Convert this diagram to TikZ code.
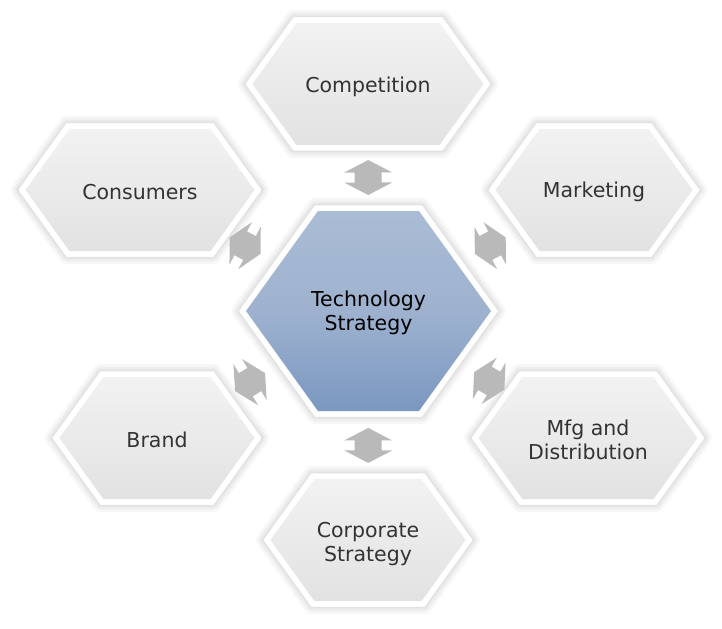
\documentclass[tikz,border=0pt]{standalone}
\usepackage{fontspec}
\setmainfont{DejaVu Sans}
\usetikzlibrary{calc,backgrounds}
\definecolor{arrowgray}{RGB}{185,185,185}
\definecolor{hexlight}{RGB}{242,242,242}
\definecolor{hexdark}{RGB}{226,226,226}
\definecolor{techtop}{RGB}{170,188,213}
\definecolor{techmid}{RGB}{158,178,207}
\definecolor{techbot}{RGB}{122,151,192}
\definecolor{txtgray}{RGB}{51,51,51}
\newcommand\hexpath[4]{($(#1)+(-#2,0)$) -- ($(#1)+(-#2+#4,-#3)$) -- ($(#1)+(#2-#4,-#3)$) -- ($(#1)+(#2,0)$) -- ($(#1)+(#2-#4,#3)$) -- ($(#1)+(-#2+#4,#3)$) -- cycle}
% #1 centre coordinate, #2 half width, #3 half height, #4 inner fill style
\newcommand\drawhex[4]{%
  \pgfmathsetmacro\hxs{0.72*#3}%
  \pgfmathsetmacro\hxw{#2-7.5}%
  \pgfmathsetmacro\hxh{#3-6}%
  \pgfmathsetmacro\hxi{0.72*(#3-6)}%
  \foreach \lw in {14,9,5,2}{%
    \path[hexshadow, line width=\lw bp] \hexpath{#1}{#2}{#3}{\hxs};}
  \path[fill=white, draw=black!10, line width=0.5bp, line join=round] \hexpath{#1}{#2}{#3}{\hxs};
  \path[#4] \hexpath{#1}{\hxw}{\hxh}{\hxi};
}
\tikzset{
  hexshadow/.style={fill=black, draw=black, opacity=0.03, line join=round, shift={(0,3)}},
  greyfill/.style={top color=hexlight, bottom color=hexdark},
  bluefill/.style={top color=techtop, bottom color=techbot, middle color=techmid},
  lbl/.style={align=center, inner sep=0pt, text=txtgray, font=\fontsize{20.5bp}{24.5bp}\selectfont},
  pics/darrow/.style={code={%
    \fill[arrowgray] (-17.5,0) -- (-5,24) -- (-5,13.5) -- (5,13.5) -- (5,24) -- (17.5,0)
      -- (5,-24) -- (5,-13.5) -- (-5,-13.5) -- (-5,-24) -- cycle;}},
}
\begin{document}
\begin{tikzpicture}[x=1bp, y=-1bp]
\useasboundingbox (0,0) rectangle (722,629);
% centres of the hexagons
\coordinate (techc) at (368.5,311);
\coordinate (compc) at (368,84);
\coordinate (consc) at (140,190);
\coordinate (mktc) at (594,190);
\coordinate (brandc) at (157,438);
\coordinate (mfgc) at (588,438);
\coordinate (corpc) at (368,540);
% hexagons
\drawhex{techc}{130}{106}{bluefill}
\drawhex{compc}{123}{67}{greyfill}
\drawhex{consc}{122}{67}{greyfill}
\drawhex{mktc}{106}{67}{greyfill}
\drawhex{brandc}{105}{67}{greyfill}
\drawhex{mfgc}{117}{67}{greyfill}
\drawhex{corpc}{105}{67}{greyfill}
% labels
\node[lbl, text=black] (tech) at ($(techc)+(0,2)$) {Technology\\Strategy};
\node[lbl] (comp) at ($(compc)+(0,3)$) {Competition};
\node[lbl] (cons) at ($(consc)+(0,2)$) {Consumers};
\node[lbl] (mkt) at ($(mktc)+(0,2)$) {Marketing};
\node[lbl] (brand) at ($(brandc)+(0,2)$) {Brand};
\node[lbl] (mfg) at ($(mfgc)+(0,2)$) {Mfg and\\Distribution};
\node[lbl] (corp) at ($(corpc)+(0,4)$) {Corporate\\Strategy};
% double arrows
\path (techc) -- (compc) pic[pos=0.588, sloped] {darrow};
\path (techc) -- (corpc) pic[pos=0.587, sloped] {darrow};
\path (techc) -- (consc) pic[pos=0.54, sloped] {darrow};
\path (techc) -- (mktc) pic[pos=0.54, sloped] {darrow};
\path (techc) -- (brandc) pic[pos=0.56, sloped] {darrow};
\path (techc) -- (mfgc) pic[pos=0.55, sloped] {darrow};
\end{tikzpicture}
\end{document}
